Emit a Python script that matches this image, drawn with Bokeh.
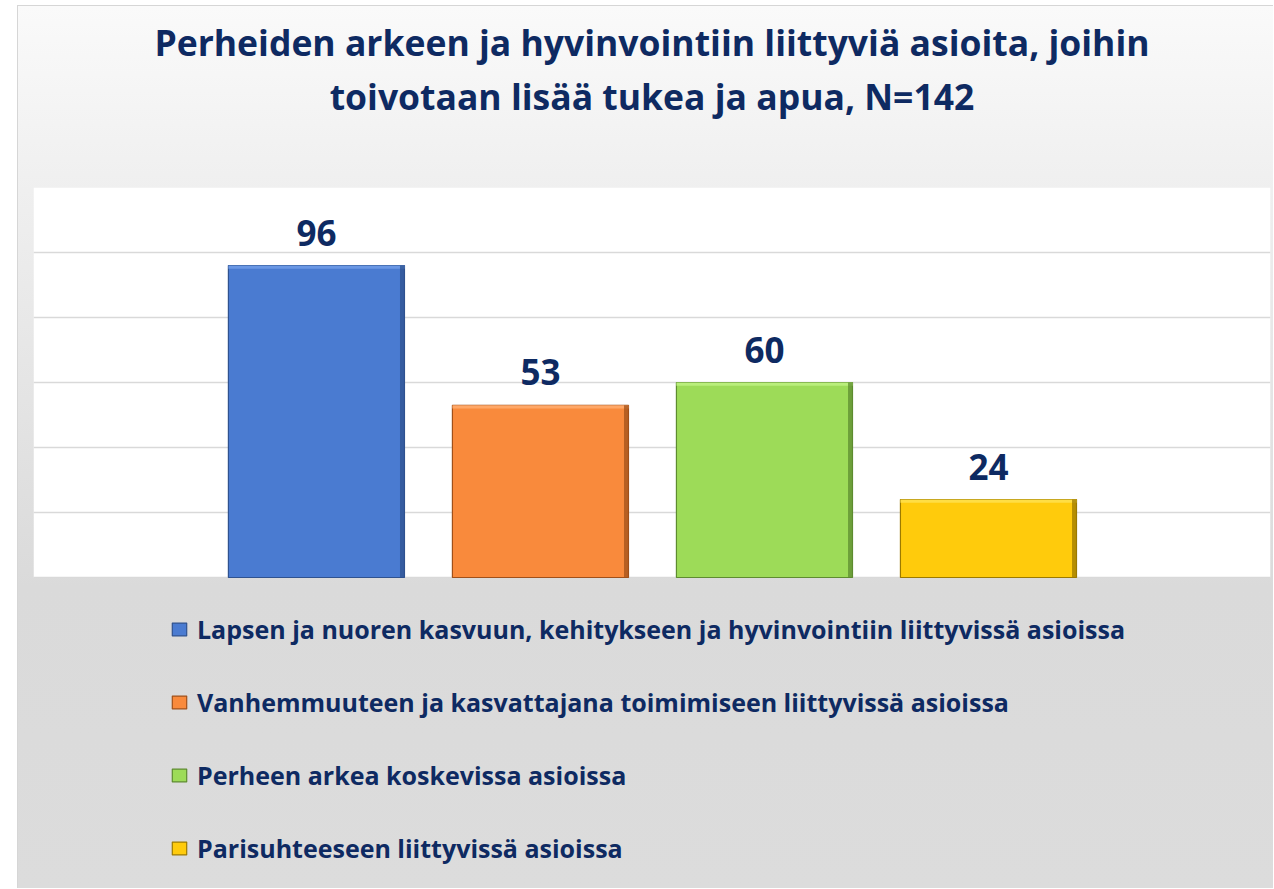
from bokeh.plotting import figure
from bokeh.models import (ColumnDataSource, Range1d, Legend, LegendItem, LabelSet,
                          Grid, FixedTicker, Title, BoxAnnotation)
from bokeh.core.properties import value
from bokeh.embed import file_html
from bokeh.resources import INLINE

# ---- data ----
series = [
    "Lapsen ja nuoren kasvuun, kehitykseen ja hyvinvointiin liittyvissä asioissa",
    "Vanhemmuuteen ja kasvattajana toimimiseen liittyvissä asioissa",
    "Perheen arkea koskevissa asioissa",
    "Parisuhteeseen liittyvissä asioissa",
]
values = [96, 53, 60, 24]
colors = ["#4A7BD1", "#F98A3C", "#9DDB58", "#FFCB0C"]
edge_colors = ["#2F528F", "#A0501A", "#5E8C30", "#9C7A00"]
light_colors = ["#6E9AE6", "#FFAA6A", "#BDF07F", "#FFE04A"]
title_lines = ["Perheiden arkeen ja hyvinvointiin liittyviä asioita, joihin",
               "toivotaan lisää tukea ja apua, N=142"]
grid_ticks = [0, 20, 40, 60, 80, 100, 120]
y_max = 120

NAVY = "#0E2A62"
FONT = "Open Sans"
BAR_W = 0.786

# frame spans the plot area and the legend area below it; white plot area is a box
p = figure(width=1256, height=883, output_backend="svg", toolbar_location=None,
           x_range=Range1d(-1.263, 4.259), y_range=Range1d(-96, y_max),
           x_axis_location=None, y_axis_location=None,
           min_border_left=15, min_border_right=4, min_border_top=181,
           min_border_bottom=0, title=None)
p.margin = (5, 0, 0, 17)
p.border_fill_color = None
p.background_fill_color = None
p.outline_line_color = None
p.styles = {"background": "linear-gradient(to bottom, #fafafa 0%, #efefef 21%, #dadada 66%, #dcdcdc 100%)",
            "border-left": "1px solid #d6d6d6", "border-top": "1px solid #d6d6d6"}
for g in p.grid:
    g.visible = False

p.add_layout(BoxAnnotation(bottom=0, top=y_max, fill_color="white", fill_alpha=1,
                           line_color=None, level="underlay"))
p.add_layout(Grid(dimension=1, ticker=FixedTicker(ticks=grid_ticks),
                  grid_line_color="#D9D9D9", grid_line_width=1.5, level="underlay"))

xs = list(range(len(values)))
src = ColumnDataSource(dict(x=xs, top=values, label=[str(v) for v in values]))

items = []
for i in range(len(values)):
    r = p.vbar(x=[xs[i]], top=[values[i]], width=BAR_W, bottom=0,
               fill_color=colors[i], line_color=edge_colors[i], line_width=1.2)
    items.append(LegendItem(label=series[i], renderers=[r]))

# bevel shading: lighter top band, darker right band
bev = ColumnDataSource(dict(
    left=[x - BAR_W / 2 for x in xs], right=[x + BAR_W / 2 for x in xs],
    inner_r=[x + BAR_W / 2 - 0.02 for x in xs],
    top=values, band=[v - 1.0 for v in values],
    light=light_colors, dark=edge_colors))
p.quad(left="left", right="right", top="top", bottom="band", source=bev,
       fill_color="light", fill_alpha=0.9, line_color=None)
p.quad(left="inner_r", right="right", top="top", bottom=0, source=bev,
       fill_color="dark", fill_alpha=0.75, line_color=None)

labels = LabelSet(x="x", y="top", text="label", source=src, y_offset=20,
                  text_align="center", text_baseline="alphabetic",
                  text_font=value(FONT), text_font_style="bold", text_font_size="35px",
                  text_color=NAVY)
p.add_layout(labels)

legend = Legend(items=items, location=(137, 24), orientation="vertical",
                glyph_width=18, glyph_height=16, label_height=34, spacing=39,
                label_standoff=9, padding=0, margin=0,
                background_fill_alpha=0, border_line_color=None,
                label_text_font=FONT, label_text_font_style="bold",
                label_text_font_size="25px", label_text_color=NAVY)
p.add_layout(legend, "center")

spacer = Title(text=" ", align="center", text_font_size="1px", standoff=62)
t2 = Title(text=title_lines[1], align="center", text_font=FONT, text_font_style="bold",
           text_font_size="35.5px", text_color=NAVY, standoff=6)
t1 = Title(text=title_lines[0], align="center", text_font=FONT, text_font_style="bold",
           text_font_size="35.5px", text_color=NAVY, standoff=1)
p.add_layout(spacer, "above")
p.add_layout(t2, "above")
p.add_layout(t1, "above")

open("out.html", "w").write(file_html(p, INLINE))
